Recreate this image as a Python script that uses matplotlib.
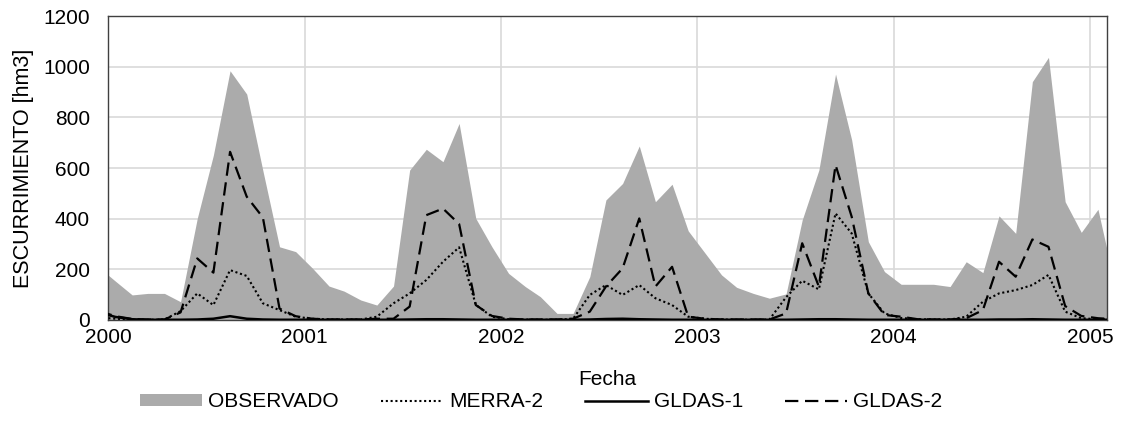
import numpy as np
import pandas as pd
import matplotlib
matplotlib.use("Agg")
import matplotlib.pyplot as plt
import matplotlib.dates as mdates

plt.rcParams["font.family"] = ["Liberation Sans", "DejaVu Sans"]
plt.rcParams["font.size"] = 15

# monthly values, Dec 1999 .. Feb 2005 (plotted mid-month)
fechas = pd.date_range("1999-12-01", "2005-02-01", freq="MS") + pd.Timedelta(days=14)

observado = [208, 153, 99, 105, 105, 72, 401, 651, 984, 892, 590, 289, 270,
             205, 134, 114, 79, 59, 134, 592, 674, 625, 776, 401, 289,
             184, 132, 92, 26, 26, 171, 474, 539, 687, 467, 536, 352,
             265, 178, 129, 105, 86, 103, 395, 592, 971, 711, 309, 191,
             141, 141, 141, 132, 230, 187, 411, 342, 941, 1037, 467, 346,
             437, 143]
merra2 = [10, 5, 2, 1, 2, 35, 105, 59, 197, 174, 66, 39, 13,
          5, 2, 2, 2, 13, 66, 105, 158, 230, 287, 60, 13,
          3, 2, 1, 1, 5, 99, 138, 99, 138, 86, 59, 13,
          5, 2, 1, 1, 2, 90, 155, 121, 421, 342, 105, 26,
          8, 3, 2, 2, 13, 72, 105, 118, 138, 178, 33, 7,
          3, 2]
gldas1 = [30, 12, 3, 1, 1, 1, 2, 5, 15, 5, 2, 1, 1,
          1, 1, 1, 1, 1, 1, 2, 3, 3, 2, 1, 1,
          1, 1, 1, 1, 1, 2, 4, 5, 3, 2, 1, 1,
          1, 1, 1, 1, 1, 1, 2, 3, 3, 2, 1, 1,
          1, 1, 1, 1, 1, 1, 2, 2, 3, 2, 1, 1,
          1, 1]
gldas2 = [35, 15, 4, 2, 2, 30, 243, 187, 664, 487, 405, 45, 15,
          5, 2, 2, 2, 5, 5, 53, 414, 440, 379, 59, 16,
          5, 2, 2, 2, 5, 33, 132, 204, 401, 132, 210, 13,
          5, 2, 2, 2, 2, 26, 303, 132, 612, 408, 105, 20,
          13, 3, 2, 2, 7, 39, 230, 171, 318, 289, 55, 16,
          7, 3]

years = pd.date_range("2000-01-01", "2005-01-01", freq="YS")

fig = plt.figure(figsize=(11.32, 4.23), dpi=100)
ax = fig.add_axes([0.0954, 0.2435, 0.8826, 0.7185])

ax.fill_between(fechas, observado, 0, color="#ABABAB", lw=0, label="OBSERVADO", zorder=2)
ax.plot(fechas, merra2, color="black", lw=1.5, linestyle=(0, (1, 1.3)), label="MERRA-2", zorder=3)
ax.plot(fechas, gldas1, color="black", lw=1.8, label="GLDAS-1", zorder=3)
ax.plot(fechas, gldas2, color="black", lw=1.6, linestyle=(0, (6, 3)), label="GLDAS-2", zorder=3)

ax.set_xlim(pd.Timestamp("2000-01-01"), pd.Timestamp("2005-02-01"))
ax.set_ylim(0, 1200)
ax.set_yticks(np.arange(0, 1201, 200))
ax.set_xticks(years)
ax.xaxis.set_major_formatter(mdates.DateFormatter("%Y"))
ax.tick_params(axis="x", length=0, pad=6, labelsize=15, colors="black")
ax.tick_params(axis="y", length=0, pad=13, labelsize=15, colors="black")

ax.grid(True, color="#D9D9D9", lw=1.2)
ax.set_axisbelow(True)
for s in ax.spines.values():
    s.set_color("#404040")
    s.set_linewidth(1.0)

ax.set_xlabel("Fecha", fontsize=15, labelpad=16)
ax.set_ylabel("ESCURRIMIENTO [hm3]", fontsize=15.5)
ax.yaxis.set_label_coords(-0.074, 0.5)

fig.legend(loc="center", bbox_to_anchor=(0.478, 0.05), ncol=4, frameon=False,
           fontsize=15, handlelength=3.0, handleheight=0.5, handletextpad=0.3,
           columnspacing=2.0)

fig.savefig("out.png", dpi=100)
